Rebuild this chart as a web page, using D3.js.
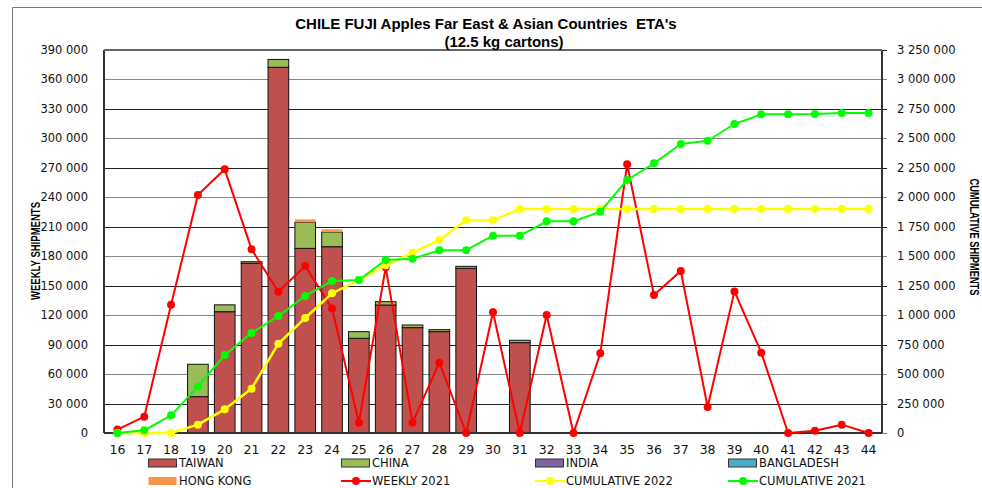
<!DOCTYPE html>
<html><head><meta charset="utf-8">
<script src="https://cdn.jsdelivr.net/npm/d3@7"></script>
<style>
html,body{margin:0;padding:0;background:#fff;}
svg text{font-family:"DejaVu Sans",Verdana,sans-serif;}
</style></head>
<body><svg id="c" width="982" height="488"></svg>
<script>
const weeks = [16,17,18,19,20,21,22,23,24,25,26,27,28,29,30,31,32,33,34,35,36,37,38,39,40,41,42,43,44];
const taiwan     = [0,0,0,37000,123500,172800,372400,188000,189700,96400,130300,107300,103200,167700,0,92000,0,0,0,0,0,0,0,0,0,0,0,0,0];
const china      = [0,0,0,33000,7000,1600,8000,26500,15000,6800,3400,2700,2000,2000,0,2400,0,0,0,0,0,0,0,0,0,0,0,0,0];
const india      = [0,0,0,0,0,0,0,0,0,0,0,0,0,0,0,0,0,0,0,0,0,0,0,0,0,0,0,0,0];
const bangladesh = [0,0,0,0,0,0,0,0,0,0,0,0,0,0,0,0,0,0,0,0,0,0,0,0,0,0,0,0,0];
const hongKong   = [0,0,0,0,0,0,0,3000,2700,0,0,0,0,0,0,0,0,0,0,0,0,0,0,0,0,0,0,0,0];
const weekly2021 = [3500,16600,130700,242300,268500,187000,143900,170000,126900,10500,168700,10500,71600,0,122900,0,120200,0,81100,273600,140500,165000,26500,144200,81800,0,2300,8500,0];
const cumulative2022 = [0,0,0,70700,200800,376300,758000,975900,1185200,1298300,1422800,1530300,1637800,1804700,1804700,1900800,1900800,1900800,1900800,1900800,1900800,1900800,1900800,1900800,1900800,1900800,1900800,1900800,1900800];
const cumulative2021 = [0,22600,149800,393000,661900,848600,992900,1162600,1289900,1298300,1468000,1479000,1550000,1551000,1674000,1674000,1796000,1796000,1878000,2147000,2288000,2452000,2480000,2622000,2704000,2704000,2706000,2715000,2715000];
const leftTicks = [0,30000,60000,90000,120000,150000,180000,210000,240000,270000,300000,330000,360000,390000];
const rightTicks = [0,250000,500000,750000,1000000,1250000,1500000,1750000,2000000,2250000,2500000,2750000,3000000,3250000];

const stackKeys = ["TAIWAN","CHINA","INDIA","BANGLADESH","HONG KONG"];
const stackColors = {"TAIWAN":"#C0504D","CHINA":"#9BBB59","INDIA":"#8064A2","BANGLADESH":"#4BACC6","HONG KONG":"#F79646"};
const rows = weeks.map((w,i)=>({week:w,"TAIWAN":taiwan[i],"CHINA":china[i],"INDIA":india[i],"BANGLADESH":bangladesh[i],"HONG KONG":hongKong[i]}));

const svg = d3.select("#c");
const L=104, R=882, T=50, B=433;
const x = d3.scaleBand().domain(weeks).range([L,R]).paddingInner(0.23).paddingOuter(0.115);
const yL = d3.scaleLinear().domain([0,390000]).range([B,T]);
const yR = d3.scaleLinear().domain([0,3250000]).range([B,T]);
const fmt = v => d3.format(",")(v).replace(/,/g," ");
const cx = w => x(w)+x.bandwidth()/2;

// outer frame
svg.append("path").attr("d","M12.5,488 L12.5,7.5 L982,7.5").attr("fill","none").attr("stroke","#777").attr("stroke-width",1);

// gridlines
svg.append("g").selectAll("line").data(leftTicks).join("line")
  .attr("x1",L).attr("x2",R+5).attr("y1",d=>Math.round(yL(d))+0.5).attr("y2",d=>Math.round(yL(d))+0.5)
  .attr("stroke",(d,i)=>i%2? "#222":"#888").attr("stroke-width",1);

// bars
const stack = d3.stack().keys(stackKeys)(rows);
svg.append("g").selectAll("g").data(stack).join("g")
  .attr("fill",d=>stackColors[d.key])
  .selectAll("rect").data(d=>d.map(p=>({p,key:d.key}))).join("rect")
  .filter(d=>d.p[1]-d.p[0]>0)
  .attr("x",d=>x(d.p.data.week)).attr("width",x.bandwidth())
  .attr("y",d=>yL(d.p[1])).attr("height",d=>yL(d.p[0])-yL(d.p[1]))
  .attr("stroke",d=>d.key==="HONG KONG"?"none":"#111").attr("stroke-width",1);

// axes lines
svg.append("line").attr("x1",L).attr("x2",L).attr("y1",T).attr("y2",B).attr("stroke","#333").attr("stroke-width",2);
svg.append("line").attr("x1",R).attr("x2",R).attr("y1",T).attr("y2",B).attr("stroke","#333").attr("stroke-width",2);
svg.append("line").attr("x1",L).attr("x2",R).attr("y1",B).attr("y2",B).attr("stroke","#333").attr("stroke-width",2);
svg.append("line").attr("x1",L).attr("x2",R).attr("y1",T).attr("y2",T).attr("stroke","#666").attr("stroke-width",2);

// lines
function series(vals, scale, color, sw){
  const pts = weeks.map((w,i)=>[cx(w), scale(vals[i])]);
  svg.append("path").attr("d",d3.line()(pts)).attr("fill","none").attr("stroke",color).attr("stroke-width",sw).attr("stroke-linejoin","round");
  svg.append("g").selectAll("circle").data(pts).join("circle").attr("cx",d=>d[0]).attr("cy",d=>d[1]).attr("r",4).attr("fill",color);
}
series(weekly2021, yL, "#FF0000", 2);
series(cumulative2022, yR, "#FFFF00", 2.5);
series(cumulative2021, yR, "#00FF00", 2);

// tick labels
svg.append("g").selectAll("text").data(leftTicks).join("text")
  .attr("x",88).attr("y",d=>yL(d)).attr("dy","0.35em").attr("text-anchor","end")
  .attr("font-size",11.5).attr("fill","#111").text(fmt);
svg.append("g").selectAll("text").data(rightTicks).join("text")
  .attr("x",897).attr("y",d=>yR(d)).attr("dy","0.35em").attr("text-anchor","start")
  .attr("font-size",11.5).attr("fill","#111").text(fmt);
svg.append("g").selectAll("text").data(weeks).join("text")
  .attr("x",cx).attr("y",454).attr("text-anchor","middle")
  .attr("font-size",12.5).attr("fill","#111").text(d=>d);

// titles
const tf = '"Liberation Sans Narrow","Liberation Sans",sans-serif';
svg.append("text").attr("x",486).attr("y",29).attr("text-anchor","middle").attr("font-weight","bold").attr("font-size",15)
  .style("font-family",tf).attr("xml:space","preserve").text("CHILE FUJI Apples Far East & Asian Countries  ETA's");
svg.append("text").attr("x",504).attr("y",47).attr("text-anchor","middle").attr("font-weight","bold").attr("font-size",15)
  .style("font-family",tf).text("(12.5 kg cartons)");
svg.append("text").attr("transform","translate(40,251) rotate(-90)").attr("text-anchor","middle").attr("font-weight","bold").attr("font-size",13.5)
  .attr("textLength",98).attr("lengthAdjust","spacingAndGlyphs")
  .style("font-family",tf).text("WEEKLY SHIPMENTS");
svg.append("text").attr("transform","translate(970,237) rotate(90)").attr("text-anchor","middle").attr("font-weight","bold").attr("font-size",13.5)
  .attr("textLength",117).attr("lengthAdjust","spacingAndGlyphs")
  .style("font-family",tf).text("CUMULATIVE SHIPMENTS");

// legend
const legendItems = [
  {name:"TAIWAN",type:"bar",color:stackColors["TAIWAN"],col:0,row:0},
  {name:"CHINA",type:"bar",color:stackColors["CHINA"],col:1,row:0},
  {name:"INDIA",type:"bar",color:stackColors["INDIA"],col:2,row:0},
  {name:"BANGLADESH",type:"bar",color:stackColors["BANGLADESH"],col:3,row:0},
  {name:"HONG KONG",type:"barnb",color:stackColors["HONG KONG"],col:0,row:1},
  {name:"WEEKLY 2021",type:"line",color:"#FF0000",col:1,row:1},
  {name:"CUMULATIVE 2022",type:"line",color:"#FFFF00",col:2,row:1},
  {name:"CUMULATIVE 2021",type:"line",color:"#00FF00",col:3,row:1}
];
const colX=[148,341,535,728], rowY=[463,481];
const lg = svg.append("g").selectAll("g").data(legendItems).join("g")
  .attr("transform",d=>`translate(${colX[d.col]},${rowY[d.row]})`);
lg.filter(d=>d.type!=="line").append("rect").attr("x",0.5).attr("y",-4).attr("width",28).attr("height",8)
  .attr("fill",d=>d.color).attr("stroke",d=>d.type==="bar"?"#333":"none");
lg.filter(d=>d.type==="line").append("line").attr("x1",0).attr("x2",30).attr("y1",0).attr("y2",0).attr("stroke",d=>d.color).attr("stroke-width",2);
lg.filter(d=>d.type==="line").append("circle").attr("cx",15).attr("cy",0).attr("r",4).attr("fill",d=>d.color);
lg.append("text").attr("x",31).attr("y",0).attr("dy","0.36em").attr("font-size",11.5).attr("fill","#111").text(d=>d.name);
</script></body></html>
